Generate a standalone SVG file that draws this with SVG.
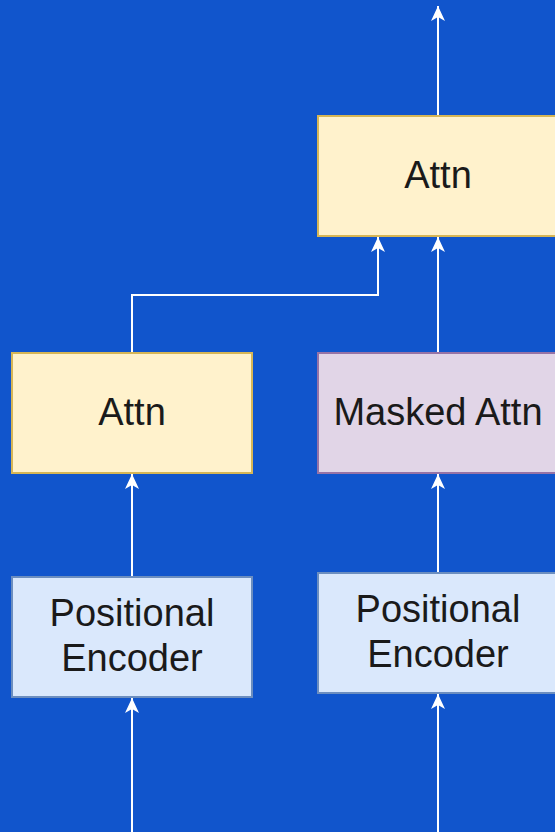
<svg xmlns="http://www.w3.org/2000/svg" width="555" height="832" viewBox="0 0 555 832">
<style>
.bg{fill:#1155cc}
.yel{fill:#fff2cc;stroke:#d6b656;stroke-width:2}
.pur{fill:#e1d5e7;stroke:#9673a6;stroke-width:2}
.blu{fill:#dae8fc;stroke:#6c8ebf;stroke-width:2}
.lbl{font-family:"Liberation Sans",Arial,sans-serif;font-size:38px;fill:#1a1a1a;text-anchor:middle}
.edge{fill:none;stroke:#ffffff;stroke-width:2;marker-end:url(#arr)}
</style>
<defs>
<marker id="arr" markerUnits="userSpaceOnUse" viewBox="0 0 15 14" refX="15" refY="7" markerWidth="15" markerHeight="14" orient="auto">
<path d="M15,7 L0,0 L4,7 L0,14 Z" fill="#ffffff"/>
</marker>
</defs>
<rect class="bg" x="0" y="0" width="555" height="832"/>
<g id="connectors">
<path class="edge" d="M438,116 V6"/>
<path class="edge" d="M132,353 V295 H378 V237"/>
<path class="edge" d="M438,353 V237"/>
<path class="edge" d="M132,577 V474"/>
<path class="edge" d="M438,573 V474"/>
<path class="edge" d="M132,832 V698"/>
<path class="edge" d="M438,832 V694"/>
</g>
<g id="attn-top">
<rect class="yel" x="318" y="116" width="240" height="120"/>
<text class="lbl" x="438" y="188">Attn</text>
</g>
<g id="attn-left">
<rect class="yel" x="12" y="353" width="240" height="120"/>
<text class="lbl" x="132" y="425">Attn</text>
</g>
<g id="masked-attn">
<rect class="pur" x="318" y="353" width="240" height="120"/>
<text class="lbl" x="438" y="425">Masked Attn</text>
</g>
<g id="pos-enc-left">
<rect class="blu" x="12" y="577" width="240" height="120"/>
<text class="lbl" x="132" y="626">Positional</text>
<text class="lbl" x="132" y="671">Encoder</text>
</g>
<g id="pos-enc-right">
<rect class="blu" x="318" y="573" width="240" height="120"/>
<text class="lbl" x="438" y="622">Positional</text>
<text class="lbl" x="438" y="667">Encoder</text>
</g>
</svg>
